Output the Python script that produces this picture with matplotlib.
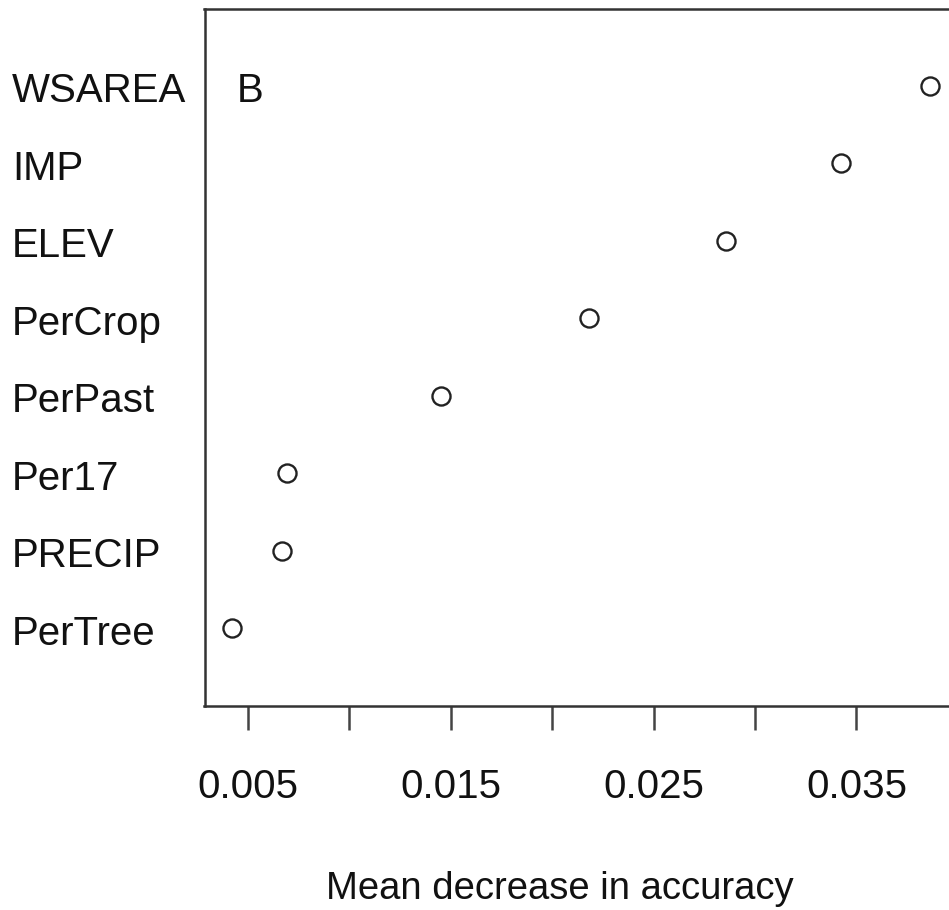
import matplotlib
matplotlib.use("Agg")
import matplotlib.pyplot as plt
import matplotlib.transforms as mtransforms

plt.rcParams['font.family'] = ['Liberation Sans', 'DejaVu Sans']

variables = ["PerTree", "PRECIP", "Per17", "PerPast", "PerCrop", "ELEV", "IMP", "WSAREA"]
mean_decrease = [0.00423, 0.00666, 0.00691, 0.01452, 0.0218, 0.02856, 0.03423, 0.03863]
tick_values = [0.005, 0.010, 0.015, 0.020, 0.025, 0.030, 0.035]
tick_labels = ["0.005", "", "0.015", "", "0.025", "", "0.035"]
panel_letter = "B"
x_label = "Mean decrease in accuracy"

W, H = 949, 910
fig = plt.figure(figsize=(W / 100, H / 100), dpi=100)
left, right, top, bottom = 204.5, 958.0, 8.5, 705.5
ax = fig.add_axes([left / W, 1 - bottom / H, (right - left) / W, (bottom - top) / H])

ypos = list(range(1, len(variables) + 1))
ax.plot(mean_decrease, ypos, linestyle='none', marker='o', markersize=13,
        markerfacecolor='white', markeredgecolor='#222222', markeredgewidth=1.7)

rng = max(mean_decrease) - min(mean_decrease)
ax.set_xlim(min(mean_decrease) - 0.04 * rng, max(mean_decrease) + 0.04 * rng)
ax.set_ylim(0, len(variables) + 1)

for s in ax.spines.values():
    s.set_linewidth(1.8)
    s.set_color('#333333')

ax.set_yticks([])
ax.set_xticks(tick_values)
ax.set_xticklabels(tick_labels)
ax.tick_params(axis='x', length=17, width=1.8, color='#444444', pad=28,
               labelsize=29, labelcolor='#111111')

# baseline offset: text baseline ~16 px below point centre
down = mtransforms.ScaledTranslation(0, -16.5 / 100, fig.dpi_scale_trans)
trans = mtransforms.blended_transform_factory(fig.transFigure, ax.transData) + down
for name, y in zip(variables, ypos):
    ax.text(12 / W, y, name, transform=trans, ha='left', va='baseline',
            fontsize=29, color='#111111', clip_on=False)

ax.text(min(mean_decrease) + 0.00023, len(variables), panel_letter, ha='left', va='baseline',
        fontsize=29, color='#111111', transform=ax.transData + down)

fig.text(560 / W, 11 / H, x_label, ha='center', va='baseline', fontsize=27.5, color='#111111')

fig.savefig("out.png", dpi=100, facecolor='white')
